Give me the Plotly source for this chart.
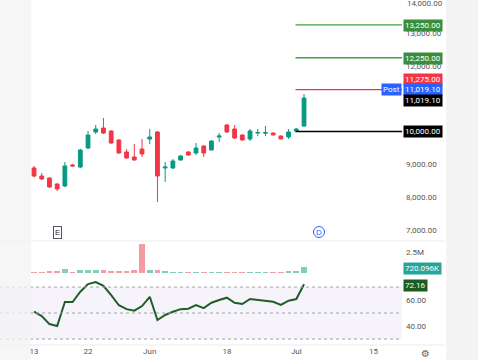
import plotly.graph_objects as go

# ---------------- data ----------------
tick_idx = [0, 7, 15, 25, 34, 44]
tick_text = ["13", "22", "Jun", "18", "Jul", "15"]

opens = [8887, 8643, 8582, 8399, 8338, 8980, 8917, 9497, 9985, 10107, 10015, 9741,
         9375, 9222, 9466, 9771, 9985, 8887, 8887, 9131, 9375, 9344, 9558, 9436,
         9832, 10198, 10076, 9893, 9771, 9954, 9950, 9954, 9863, 9832, 10015, 10168]
highs = [8950, 8734, 8600, 8420, 9070, 9010, 9470, 10015, 10198, 10412, 10040, 9760,
         9466, 9619, 9771, 10076, 10015, 9070, 9161, 9280, 9400, 9649, 9580, 9730,
         9954, 10230, 10198, 9910, 10076, 10076, 10168, 9970, 9880, 10076, 10107, 11144]
lows = [8600, 8520, 8280, 8185, 8300, 8920, 8880, 9470, 9924, 9924, 9620, 9320,
        9170, 9110, 9222, 9619, 7850, 8460, 8860, 9110, 9260, 9283, 9222, 9420,
        9680, 9960, 9780, 9720, 9710, 9863, 9863, 9880, 9760, 9771, 9985, 10140]
closes = [8643, 8551, 8307, 8246, 8948, 8950, 9436, 9893, 10076, 9954, 9649, 9344,
          9192, 9131, 9314, 9832, 8643, 8917, 9100, 9253, 9283, 9497, 9344, 9710,
          9863, 9985, 9802, 9741, 10015, 9970, 9965, 9893, 9771, 9985, 10076, 11019.1]
volumes = [150e3, 120e3, 200e3, 200e3, 450e3, 100e3, 380e3, 380e3, 330e3, 350e3, 200e3, 200e3,
           200e3, 300e3, 3450e3, 300e3, 300e3, 200e3, 150e3, 150e3, 80e3, 80e3, 100e3, 80e3,
           100e3, 100e3, 100e3, 100e3, 150e3, 150e3, 150e3, 100e3, 100e3, 200e3, 200e3, 720096]
rsi = [51, 47.7, 41.5, 40, 58.5, 58.5, 66.4, 72.3, 73.8, 71, 63.8, 56,
       53, 51.8, 55.4, 62.5, 44.6, 48.5, 51, 53, 53.3, 56.2, 53.8, 57.9,
       60, 61.8, 57.9, 56.9, 60.8, 60, 59.5, 58.7, 56.2, 59.5, 60.8, 72.16]

levels = [13250, 12250, 11275, 10000]
level_colors = ["#43a047", "#43a047", "#f23645", "#000000"]
price_ticks = [7000, 8000, 9000, 10000, 12000, 13000]
top_tick_label = "14,000.00"
rsi_ticks = [40, 60]
vol_ticks = [2.5e6]
vol_tick_text = ["2.5M"]
last_price = 11019.10
last_volume_label = "720.096K"
last_rsi = 72.16

# ---------------- layout helpers ----------------
W, H = 478, 360
def px(x):
    return x / W
def py(y):
    return 1 - y / H

UP = "#089981"
DN = "#f23645"
x_idx = list(range(len(opens)))
XR = [-4.41, 47.7]
XDOM = [0, px(402)]

fig = go.Figure()

fig.add_trace(go.Candlestick(
    x=x_idx, open=opens, high=highs, low=lows, close=closes,
    increasing=dict(line=dict(color=UP, width=1), fillcolor=UP),
    decreasing=dict(line=dict(color=DN, width=1), fillcolor=DN),
    xaxis="x", yaxis="y", showlegend=False, hoverinfo="skip"))

vcolors = ["rgba(8,153,129,0.5)" if c >= o else "rgba(242,54,69,0.5)" for o, c in zip(opens, closes)]
fig.add_trace(go.Bar(x=x_idx, y=volumes, marker=dict(color=vcolors, line=dict(width=0)),
                     width=0.75, xaxis="x", yaxis="y2", showlegend=False, hoverinfo="skip"))

fig.add_trace(go.Scatter(x=x_idx, y=rsi, mode="lines", line=dict(color="#1f5e25", width=2),
                         xaxis="x", yaxis="y3", showlegend=False, hoverinfo="skip"))

shapes = []
# RSI band and dashed lines
shapes.append(dict(type="rect", xref="paper", yref="y3", x0=XDOM[0], x1=XDOM[1], y0=30, y1=70,
                   fillcolor="rgba(126,87,194,0.07)", line=dict(width=0), layer="below"))
for lv in [70, 50, 30]:
    shapes.append(dict(type="line", xref="paper", yref="y3", x0=XDOM[0], x1=XDOM[1], y0=lv, y1=lv,
                       line=dict(color="#a0a3ab", width=1, dash="3px,3px")))
# level lines
for lv, col in zip(levels, level_colors):
    shapes.append(dict(type="line", xref="x", yref="y", x0=33.9, x1=XR[1], y0=lv, y1=lv,
                       line=dict(color=col, width=1.3)))
# pane separators
for yy in [241, 345]:
    shapes.append(dict(type="line", xref="paper", yref="paper", x0=0, x1=px(445), y0=py(yy), y1=py(yy),
                       line=dict(color="#ececec", width=1)))
# D marker circle
shapes.append(dict(type="circle", xref="paper", yref="paper", x0=px(313.5), x1=px(324.5), y0=py(237.5), y1=py(226.5),
                   line=dict(color="#2962ff", width=1), fillcolor="rgba(0,0,0,0)", layer="below"))
# blurred side strips
shapes.append(dict(type="rect", xref="paper", yref="paper", x0=0, x1=px(31), y0=0, y1=1,
                   fillcolor="rgba(243,243,243,0.75)", line=dict(width=0), layer="above"))
shapes.append(dict(type="rect", xref="paper", yref="paper", x0=px(446), x1=1, y0=0, y1=1,
                   fillcolor="rgba(240,241,240,0.8)", line=dict(width=0), layer="above"))

FONT = "Roboto, Liberation Sans, sans-serif"
ann = []
def box(text, y_pix, bg, x_pix=403, anchor="left"):
    ann.append(dict(text=text, xref="paper", yref="paper", x=px(x_pix), y=py(y_pix),
                    xanchor=anchor, yanchor="middle", showarrow=False, bgcolor=bg,
                    borderpad=1, font=dict(family=FONT, size=8, color="white")))

box("{:,.2f}".format(levels[0]), 26, "#388e3c")
box("{:,.2f}".format(levels[1]), 59, "#388e3c")
box("{:,.2f}".format(levels[2]), 79, "#f23645")
box("{:,.2f}".format(last_price), 89, "#2962ff")
box("{:,.2f}".format(last_price), 100, "#000000")
box("{:,.2f}".format(levels[3]), 131.5, "#000000")
box("Post", 89, "#2962ff", x_pix=402, anchor="right")
box(last_volume_label, 268, "#26a69a")
box("{:.2f}".format(last_rsi), 285, "#1b5e20")

ann.append(dict(text=top_tick_label, xref="paper", yref="paper", x=px(405), y=py(4), xanchor="left",
                yanchor="middle", showarrow=False, font=dict(family=FONT, size=8, color="#555")))
ann.append(dict(text="E", xref="paper", yref="paper", x=px(57), y=py(232), showarrow=False,
                xanchor="center", yanchor="middle",
                bordercolor="#555", borderwidth=1, borderpad=1,
                font=dict(family="Liberation Sans", size=8, color="#333")))
ann.append(dict(text="D", xref="paper", yref="paper", x=px(319), y=py(232), showarrow=False,
                xanchor="center", yanchor="middle",
                font=dict(family="Liberation Sans", size=8, color="#2962ff")))
ann.append(dict(text="⚙", xref="paper", yref="paper", x=px(425), y=py(353), showarrow=False,
                xanchor="center", yanchor="middle",
                font=dict(family="DejaVu Sans", size=10, color="#666")))

axfont = dict(family=FONT, size=8, color="#555")
fig.update_layout(
    width=W, height=H, margin=dict(l=0, r=0, t=0, b=0),
    paper_bgcolor="white", plot_bgcolor="white",
    shapes=shapes, annotations=ann, bargap=0,
    xaxis=dict(domain=XDOM, range=XR, anchor="y3", tickmode="array", tickvals=tick_idx,
               ticktext=tick_text, showgrid=False, zeroline=False, showline=False,
               ticks="", tickfont=axfont, rangeslider=dict(visible=False), fixedrange=True),
    yaxis=dict(domain=[py(241), 1], range=[6660, 14011], side="right", anchor="x",
               tickmode="array", tickvals=price_ticks, tickformat=",.2f", showgrid=False,
               zeroline=False, ticks="", tickfont=axfont, ticklabelstandoff=3),
    yaxis2=dict(domain=[py(275), py(241)], range=[-240000, 3810000], side="right", anchor="x",
                tickmode="array", tickvals=vol_ticks, ticktext=vol_tick_text, showgrid=False,
                zeroline=False, ticks="", tickfont=axfont, ticklabelstandoff=3),
    yaxis3=dict(domain=[py(345), py(276)], range=[25.4, 78.5], side="right", anchor="x",
                tickmode="array", tickvals=rsi_ticks, tickformat=".2f", showgrid=False,
                zeroline=False, ticks="", tickfont=axfont, ticklabelstandoff=3),
)

fig.write_html("out.html")
